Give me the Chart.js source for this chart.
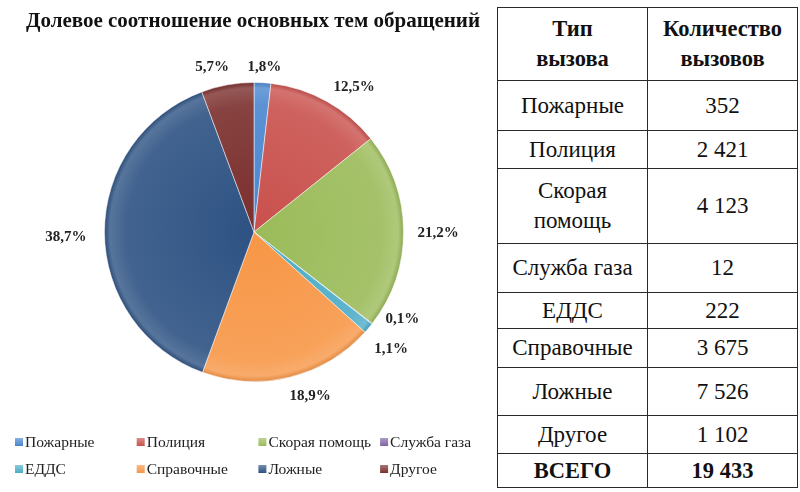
<!DOCTYPE html>
<html>
<head>
<meta charset="utf-8">
<script src="https://cdn.jsdelivr.net/npm/chart.js@4"></script>
<style>
  html, body { margin:0; padding:0; background:#fff; }
  body { width:800px; height:492px; position:relative; overflow:hidden; font-family:"Liberation Serif","Times New Roman",serif; }
  #wrap { position:absolute; left:0; top:0; width:490px; height:492px; }
  #tbl { position:absolute; left:497px; top:7px; width:300px; border-collapse:collapse; table-layout:fixed; }
  #tbl td { border:1.5px solid #2a2a2a; text-align:center; vertical-align:middle; padding:0 7px; font-size:23px; color:#111; line-height:1.3; }
  #tbl tr.head td { font-weight:bold; font-size:22.5px; line-height:1.35; }
  #tbl tr.total td { font-weight:bold; font-size:22.5px; }
</style>
</head>
<body>
<div id="wrap"><canvas id="c" width="490" height="492"></canvas></div>
<table id="tbl"></table>
<script>
// ---- data ----
const title = "Долевое соотношение основных тем обращений";
const categories = ["Пожарные","Полиция","Скорая помощь","Служба газа","ЕДДС","Справочные","Ложные","Другое"];
const tableCategories = ["Пожарные","Полиция","Скорая помощь","Служба газа","ЕДДС","Справочные","Ложные","Другое"];
const callCounts = [352, 2421, 4123, 12, 222, 3675, 7526, 1102];
const tableHeader = [["Тип", "вызова"], ["Количество", "вызовов"]];
const totalLabel = "ВСЕГО";

// ---- styles ----
const colors = ["#4A86CF","#C9504C","#9BBB59","#8064A2","#4BACC6","#F79646","#2D5283","#7A2E2C"];
const rowHeights = [73, 50, 38, 75, 49, 36, 39, 48, 38, 34];
const labelNudge = {0:[0,5], 1:[11,4], 2:[0,2], 3:[6,-17], 4:[-1,8], 5:[12,-1], 6:[-4,5], 7:[-10,2]};

function fmtNum(n){ return String(n).replace(/\B(?=(\d{3})+(?!\d))/g, "\u00a0"); }

// ---- table ----
const total = callCounts.reduce((a,b)=>a+b,0);
(function buildTable(){
  const t = document.getElementById('tbl');
  let html = '<colgroup><col style="width:150px"><col style="width:150px"></colgroup>';
  html += `<tr class="head" style="height:${rowHeights[0]}px"><td>${tableHeader[0].join('<br>')}</td><td>${tableHeader[1].join('<br>')}</td></tr>`;
  tableCategories.forEach((c,i)=>{
    html += `<tr style="height:${rowHeights[i+1]}px"><td>${c}</td><td>${fmtNum(callCounts[i])}</td></tr>`;
  });
  html += `<tr class="total" style="height:${rowHeights[9]}px"><td>${totalLabel}</td><td>${fmtNum(total)}</td></tr>`;
  t.innerHTML = html;
})();

function lighten(hex, f){
  const n = parseInt(hex.slice(1),16);
  let r=(n>>16)&255, g=(n>>8)&255, b=n&255;
  r=Math.round(r+(255-r)*f); g=Math.round(g+(255-g)*f); b=Math.round(b+(255-b)*f);
  return `rgb(${r},${g},${b})`;
}
function darken(hex, f){
  const n = parseInt(hex.slice(1),16);
  let r=(n>>16)&255, g=(n>>8)&255, b=n&255;
  return `rgb(${Math.round(r*(1-f))},${Math.round(g*(1-f))},${Math.round(b*(1-f))})`;
}

const titlePlugin = {
  id:'titlePlugin',
  afterDraw(chart){
    const ctx = chart.ctx;
    ctx.save();
    ctx.font = "bold 21px 'Liberation Serif', 'Times New Roman', serif";
    ctx.fillStyle = "#111";
    ctx.textAlign = "center";
    ctx.textBaseline = "middle";
    ctx.fillText(title, 253, 22);
    ctx.restore();
  }
};

const pctLabels = {
  id:'pctLabels',
  afterDatasetsDraw(chart){
    const ctx = chart.ctx;
    const meta = chart.getDatasetMeta(0);
    const data = chart.data.datasets[0].data;
    const sum = data.reduce((a,b)=>a+b,0);
    ctx.save();
    ctx.font = "bold 15px 'Liberation Serif', 'Times New Roman', serif";
    ctx.fillStyle = "#222";
    ctx.textAlign = "center";
    ctx.textBaseline = "middle";
    meta.data.forEach((el,i)=>{
      const p = el.getProps(['x','y','startAngle','endAngle','outerRadius'], true);
      const mid = (p.startAngle + p.endAngle)/2;
      const txt = (data[i]/sum*100).toFixed(1).replace('.',',') + '%';
      const w = ctx.measureText(txt).width, h = 13, gap = 14;
      let x = p.x + (p.outerRadius+gap)*Math.cos(mid) + (w/2)*Math.cos(mid);
      let y = p.y + (p.outerRadius+gap)*Math.sin(mid) + (h/2)*Math.sin(mid);
      const nd = labelNudge[i];
      if (nd){ x += nd[0]; y += nd[1]; }
      ctx.fillText(txt, x, y);
    });
    ctx.restore();
  }
};

const gridLegend = {
  id:'gridLegend',
  afterDraw(chart){
    const ctx = chart.ctx;
    const labels = chart.data.labels;
    ctx.save();
    ctx.font = "15.5px 'Liberation Serif', 'Times New Roman', serif";
    ctx.textBaseline = "middle";
    ctx.textAlign = "left";
    labels.forEach((lab,i)=>{
      const col = i%4, row = Math.floor(i/4);
      const x = 15 + col*121.7, y = 442 + row*27;
      const g = ctx.createLinearGradient(x, y-4, x, y+4);
      g.addColorStop(0, lighten(colors[i],0.35));
      g.addColorStop(1, colors[i]);
      ctx.fillStyle = g;
      ctx.fillRect(x, y-4, 8, 8);
      ctx.fillStyle = "#222";
      ctx.fillText(lab, x+10, y+0.5);
    });
    ctx.restore();
  }
};

new Chart(document.getElementById('c'), {
  type:'pie',
  data:{
    labels: categories,
    datasets:[{
      data: callCounts,
      backgroundColor(ctx){
        const chart = ctx.chart;
        const ca = chart.chartArea;
        const base = colors[ctx.dataIndex];
        if (!ca) return base;
        const cx = (ca.left+ca.right)/2, cy = (ca.top+ca.bottom)/2;
        const r = Math.min(ca.right-ca.left, ca.bottom-ca.top)/2;
        const g = chart.ctx.createRadialGradient(cx, cy, 0, cx, cy, r);
        g.addColorStop(0, base);
        g.addColorStop(0.85, lighten(base,0.1));
        g.addColorStop(0.96, lighten(base,0.2));
        g.addColorStop(1, darken(base,0.1));
        return g;
      },
      borderColor: "rgba(255,255,255,0.5)",
      borderWidth: 1
    }]
  },
  options:{
    responsive:false,
    animation:false,
    layout:{ padding:{ left:103, right:85, top:82, bottom:110 } },
    plugins:{
      legend:{ display:false },
      tooltip:{ enabled:false },
      title:{ display:false }
    }
  },
  plugins:[titlePlugin, pctLabels, gridLegend]
});
</script>
</body>
</html>
